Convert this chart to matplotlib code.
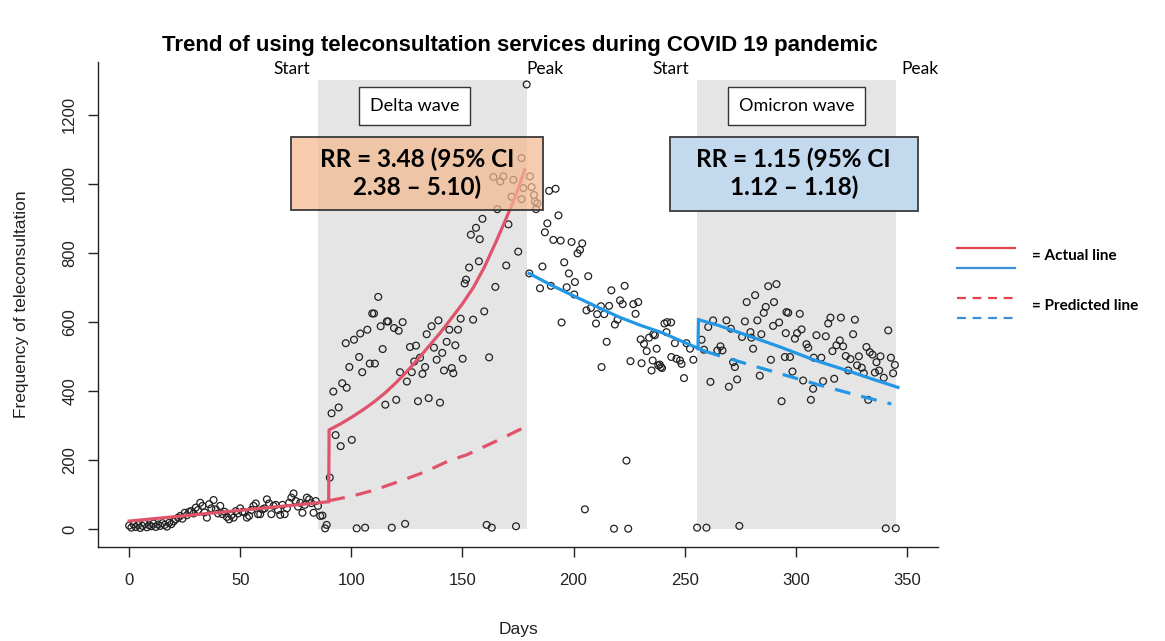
import matplotlib
matplotlib.use("Agg")
import matplotlib.pyplot as plt
from matplotlib.patches import Rectangle
from matplotlib.lines import Line2D

# ---------------- data ----------------
early_days = [0, 1, 2, 3, 4, 5, 6, 7, 8, 9, 10, 11, 12, 13, 14, 15, 16, 17, 18, 19, 20, 21, 22,
              23, 24, 25, 26, 27, 28, 29, 30, 31, 32, 33, 34, 35, 36, 37, 38, 39, 40, 41, 42, 43,
              44, 45, 46, 47, 48, 49, 50, 51, 52, 53, 54, 55, 56, 57, 58, 59, 60, 61, 62, 63, 64,
              65, 66, 67, 68, 69, 70, 71, 72, 73, 74, 75, 76, 77, 78, 79, 80, 81, 82, 83, 84, 85, 86]
early_vals = [10, 4, 14, 6, 12, 3, 9, 15, 5, 11, 8, 16, 6, 13, 9, 17, 12, 7, 18, 14, 22, 28, 33,
              38, 30, 47, 40, 50, 52, 45, 62, 55, 76, 67, 48, 33, 72, 60, 84, 57, 45, 67, 43, 50,
              35, 28, 40, 33, 52, 45, 60, 50, 48, 33, 38, 55, 67, 74, 43, 43, 57, 60, 86, 74, 43,
              67, 70, 55, 41, 70, 43, 60, 76, 91, 103, 81, 65, 76, 47, 70, 91, 86, 75, 47, 81, 67, 38]

delta_days = [87.0, 88.2, 88.9, 90.3, 91.1, 91.9, 92.9, 94.3, 95.2, 95.9, 97.5, 97.9, 99.1, 100.2,
              101.2, 102.4, 103.5, 104.0, 104.9, 106.2, 107.2, 108.3, 109.4, 110.2, 110.6, 112.1,
              113.2, 114.1, 115.3, 116.0, 116.6, 118.2, 119.2, 120.2, 121.3, 121.9, 123.1, 124.2,
              125.0, 126.4, 127.2, 128.3, 129.1, 130.0, 130.9, 132.0, 133.2, 133.9, 134.8, 136.1,
              137.2, 138.4, 139.2, 139.9, 140.9, 141.7, 142.9, 144.1, 145.2, 145.9, 146.8, 148.0,
              149.2, 150.1, 151.0, 151.6, 153.0, 153.8, 154.8, 156.1, 157.4, 157.8, 159.0, 159.8,
              160.9, 162.0, 163.2, 163.9, 164.8, 165.7, 167.0, 168.4, 169.7, 170.7, 172.1, 172.9,
              174.1, 175.1, 176.6, 176.6, 177.4, 178.9]
delta_vals = [39, 2, 12, 149, 335, 398, 272, 352, 240, 422, 538, 409, 469, 258,
              548, 2, 498, 566, 454, 4, 577, 479, 624, 624, 479, 672,
              587, 521, 360, 601, 601, 4, 582, 374, 574, 454, 599, 15,
              427, 527, 454, 485, 531, 370, 496, 449, 469, 564, 379, 587,
              525, 490, 604, 366, 510, 459, 542, 577, 466, 451, 532, 577,
              609, 493, 711, 722, 757, 852, 606, 872, 775, 839, 898, 630,
              12, 497, 4, 1019, 701, 926, 1006, 1021, 763, 882, 962, 1011,
              8, 803, 1074, 955, 987, 1287]

post_days = [180.1, 180.4, 181.1, 182.2, 182.6, 183.1, 183.7, 184.9, 186.0, 187.1, 188.2, 189.0,
             189.8, 190.9, 191.9, 193.2, 194.2, 194.6, 195.8, 196.9, 197.9, 199.1, 200.3, 200.6,
             201.8, 202.9, 203.9, 205.1, 205.8, 206.6, 207.8, 210.1, 210.6, 212.3, 212.6, 213.8,
             214.9, 216.0, 217.0, 218.2, 218.6, 219.8, 220.9, 222.1, 223.0, 223.8, 224.6, 225.6,
             226.9, 227.9, 229.1, 230.2, 230.6, 231.7, 232.9, 234.0, 235.1, 235.6, 235.9, 236.6,
             237.4, 238.1, 238.8, 239.3, 239.8, 240.9, 241.8, 242.1, 243.9, 244.0, 245.6, 246.3,
             247.9, 248.6, 249.7, 250.8, 252.4, 253.9, 255.6]
post_vals = [740, 1021, 990, 967, 948, 926, 943, 697, 760, 859, 885, 979,
             704, 837, 985, 908, 835, 598, 772, 700, 740, 831, 679, 715,
             798, 808, 827, 57, 633, 732, 640, 595, 622, 645, 469, 622,
             542, 646, 691, 1, 592, 606, 662, 651, 704, 198, 1, 486,
             651, 623, 657, 549, 480, 536, 515, 554, 459, 488, 564, 561,
             522, 474, 476, 469, 466, 595, 570, 599, 598, 498, 538, 493,
             488, 478, 437, 538, 522, 490, 4]

omi_days = [257.6, 258.7, 259.8, 260.6, 261.6, 262.8, 264.7, 266.1, 267.0, 268.8, 269.9, 270.8,
            271.8, 272.6, 273.6, 274.6, 275.8, 277.1, 277.9, 279.6, 280.0, 280.8, 281.7, 282.7,
            283.8, 284.5, 285.6, 286.5, 287.6, 288.8, 289.8, 290.2, 291.3, 292.5, 293.6, 295.1,
            295.5, 295.8, 296.6, 297.4, 298.5, 299.6, 300.6, 301.8, 302.6, 303.3, 304.8, 305.6,
            306.8, 307.8, 308.1, 309.3, 311.5, 312.3, 313.5, 314.6, 315.6, 316.5, 317.3, 318.3,
            319.8, 320.3, 321.3, 322.5, 323.6, 324.6, 325.8, 326.6, 327.6, 328.4, 329.7, 330.6,
            331.8, 332.6, 333.3, 334.5, 335.6, 336.3, 337.5, 338.1, 339.6, 340.5, 341.6, 342.8,
            343.8, 344.6, 345.0]
omi_vals = [548, 519, 4, 585, 426, 604, 517, 529, 517, 604, 412, 580,
            483, 469, 433, 9, 556, 601, 657, 570, 554, 522, 677, 604,
            444, 564, 626, 643, 703, 490, 588, 657, 709, 598, 370, 498,
            567, 628, 626, 498, 456, 551, 567, 623, 578, 430, 535, 525,
            374, 406, 496, 561, 496, 428, 558, 595, 612, 515, 435, 532,
            546, 612, 529, 501, 459, 492, 564, 606, 474, 500, 467, 451,
            527, 374, 512, 505, 453, 483, 459, 500, 438, 2, 575, 496,
            451, 475, 2]

# fitted lines
delta_fit_days = [0, 89.8, 90.0, 95, 100, 105, 110, 115, 120, 125, 130, 135, 140, 145, 150,
                  155, 160, 165, 170, 174, 178]
delta_fit_vals = [23, 79, 287, 304, 323, 344, 367, 393, 423, 456, 492, 530, 568, 610, 652,
                  700, 760, 830, 904, 965, 1040]
delta_pred_days = [90, 100, 110, 122, 133, 144, 152, 159, 167, 178]
delta_pred_vals = [82, 95, 112, 139, 165, 198, 215, 236, 260, 295]

omi_fit1_days = [180, 190, 200, 210, 220, 230, 240, 250, 259]
omi_fit1_vals = [740, 706, 675, 645, 615, 590, 568, 540, 515]
omi_fit2_days = [256, 256.2, 265, 278, 293, 308, 323, 335, 346]
omi_fit2_vals = [522, 606, 590, 561, 527, 490, 459, 433, 410]
omi_pred_days = [259, 264, 278, 296, 310, 326, 343]
omi_pred_vals = [515, 505, 478, 444, 418, 390, 362]

x_ticks = [0, 50, 100, 150, 200, 250, 300, 350]
y_ticks = [0, 200, 400, 600, 800, 1000, 1200]

RED = "#DF536B"
BLUE = "#2297E6"

# ---------------- figure ----------------
fig = plt.figure(figsize=(11.65, 6.41), dpi=100)
ax = fig.add_axes([98 / 1165, 94 / 641, (938 - 98) / 1165, (579 - 94) / 641])
ax.set_xlim(-14, 364)
ax.set_ylim(-52, 1352)

# shaded wave periods
ax.add_patch(Rectangle((85, 0), 179 - 85, 1300, facecolor="#E5E5E5", edgecolor="none", zorder=0))
ax.add_patch(Rectangle((255.5, 0), 345 - 255.5, 1300, facecolor="#E5E5E5", edgecolor="none", zorder=0))

# points
all_days = early_days + delta_days + post_days + omi_days
all_vals = early_vals + delta_vals + post_vals + omi_vals
ax.scatter(all_days, all_vals, s=24, facecolors="none", edgecolors="#222222", linewidths=0.9, zorder=2)

# fitted lines
ax.plot(delta_fit_days, delta_fit_vals, color=RED, lw=2.3, zorder=3, solid_joinstyle="miter")
ax.plot(delta_pred_days, delta_pred_vals, color=RED, lw=2.3, ls=(0, (5, 3.5)), zorder=3)
ax.plot(omi_fit1_days, omi_fit1_vals, color=BLUE, lw=2.3, zorder=3)
ax.plot(omi_fit2_days, omi_fit2_vals, color=BLUE, lw=2.3, zorder=3, solid_joinstyle="miter")
ax.plot(omi_pred_days, omi_pred_vals, color=BLUE, lw=2.3, ls=(0, (5, 3.5)), zorder=3)

# axes styling (R-like)
for s in ["top", "right"]:
    ax.spines[s].set_visible(False)
for s in ["left", "bottom"]:
    ax.spines[s].set_linewidth(1.0)
    ax.spines[s].set_color("#222222")
ax.set_xticks(x_ticks)
ax.set_yticks(y_ticks)
ax.tick_params(direction="out", length=7, width=1.0, colors="#222222", labelsize=12, pad=8)
ax.tick_params(axis="x", pad=12)
for lab in ax.get_yticklabels():
    lab.set_rotation(90)
    lab.set_va("center")
for lab in ax.get_xticklabels() + ax.get_yticklabels():
    lab.set_fontfamily("Liberation Sans")
ax.set_xlabel("Days", fontsize=12.5, family="Liberation Sans", color="#222222", labelpad=24)
ax.set_ylabel("Frequency of teleconsultation", fontsize=12.5, family="Liberation Sans",
              color="#222222", labelpad=24)

fig.text(0.4465, 1 - 45 / 641, "Trend of using teleconsultation services during COVID 19 pandemic",
         ha="center", va="center", fontsize=16, fontweight="bold", family="Liberation Sans")

# Start / Peak labels
for xd, t in [(73.3, "Start"), (187.1, "Peak"), (243.8, "Start"), (355.8, "Peak")]:
    ax.text(xd, 1331, t, ha="center", va="center", fontsize=12.5, family="Lato",
            clip_on=False, zorder=5)

# wave name boxes
for xc, t in [(128.4, "Delta wave"), (300.3, "Omicron wave")]:
    ax.text(xc, 1225, t, ha="center", va="center", fontsize=13, family="Lato", zorder=6,
            bbox=dict(boxstyle="square,pad=0.6", facecolor="white", edgecolor="#333333", lw=1.0))

# RR boxes
ax.add_patch(Rectangle((72.9, 924), 186.2 - 72.9, 1136 - 924, facecolor="#F4B990", alpha=0.72,
                       edgecolor="none", zorder=4, clip_on=False))
ax.add_patch(Rectangle((72.9, 924), 186.2 - 72.9, 1136 - 924, facecolor="none",
                       edgecolor="#3a3a3a", lw=1.3, zorder=4, clip_on=False))
ax.text(129.5, 1030, "RR = 3.48 (95% CI\n2.38 \u2013 5.10)", ha="center", va="center",
        fontsize=17.5, fontweight="bold", family="Lato", linespacing=1.25, zorder=5)

ax.add_patch(Rectangle((243.4, 921), 354.9 - 243.4, 1136 - 921, facecolor="#C3D9EE",
                       edgecolor="#3a3a3a", lw=1.3, zorder=4, clip_on=False))
ax.text(299.1, 1030, "RR = 1.15 (95% CI\n1.12 \u2013 1.18)", ha="center", va="center",
        fontsize=17.5, fontweight="bold", family="Lato", linespacing=1.25, zorder=5)

# custom legend at right
W, H = 1165, 641
def fig_line(y_px, color, dashed):
    fig.add_artist(Line2D([957 / W, 1015 / W], [1 - y_px / H, 1 - y_px / H], color=color, lw=1.6,
                          ls=(0, (4, 3)) if dashed else "-"))
fig_line(248, "#E2434F", False)
fig_line(268, "#3B8ED8", False)
fig_line(298, "#E2434F", True)
fig_line(318, "#3B8ED8", True)
fig.text(1032 / W, 1 - 256 / H, "= Actual line", ha="left", va="center", fontsize=11,
         fontweight="bold", family="Lato")
fig.text(1032 / W, 1 - 306 / H, "= Predicted line", ha="left", va="center", fontsize=11,
         fontweight="bold", family="Lato")

fig.savefig("out.png", dpi=100)
